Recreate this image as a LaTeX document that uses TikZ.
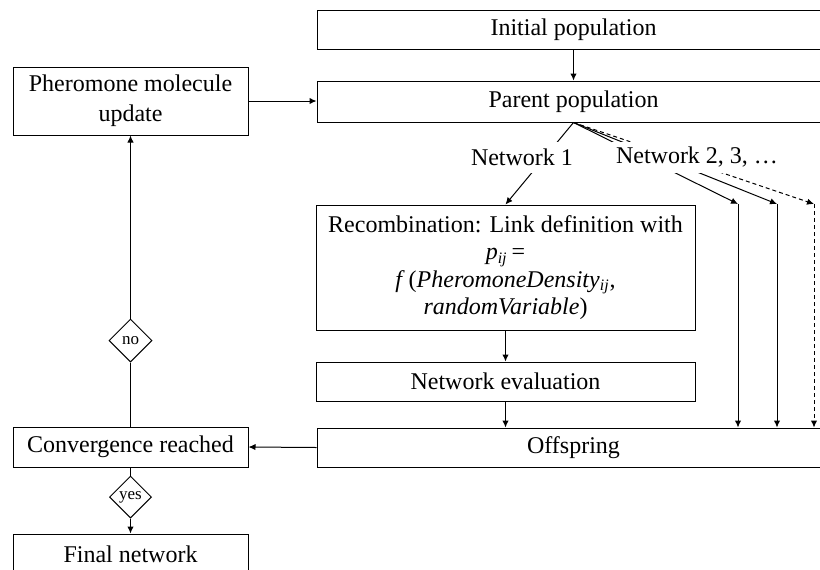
\documentclass[tikz,border=0pt]{standalone}
\usepackage{fontspec}
\setmainfont{Liberation Serif}
\usetikzlibrary{arrows.meta,shapes.geometric}

\begin{document}
\begin{tikzpicture}[x=0.5pt, y=-0.5pt, line width=0.5pt,
  font=\fontsize{12}{13.8}\selectfont,
  >={Latex[length=3.5pt, width=3.2pt]},
  box/.style={draw, align=center, inner sep=0pt},
  widebox/.style={box, minimum width=256.5pt, minimum height=19.5pt},
  sidebox/.style={box, minimum width=117.5pt, minimum height=20pt},
  midbox/.style={box, minimum width=189.5pt},
  decision/.style={draw, shape=diamond, inner sep=0pt, minimum width=21.5pt,
    minimum height=21.5pt, font=\fontsize{8.5}{10}\selectfont},
  netlabel/.style={fill=white, inner sep=2pt, minimum height=15.5pt},
  dashline/.style={dash pattern=on 2pt off 1.5pt}]

  \useasboundingbox (0,0) rectangle (820,569);

  % main column
  \node[widebox] (init) at (573.5,29.5) {Initial population};
  \node[widebox, minimum height=20.5pt] (parent) at (573.5,101.5) {Parent population};
  \node[midbox, minimum height=62.5pt] (recomb) at (505.5,267.5)
    {Recombination: Link definition with\\
     \textit{p}\textsubscript{\textit{ij}}\,=\\
     \textit{f}\,(\textit{PheromoneDensity}\textsubscript{\textit{ij}},\\
     \textit{randomVariable})};
  \node[midbox, minimum height=19.5pt] (evalnet) at (505.5,381.5) {Network evaluation};
  \node[widebox] (offspring) at (573.5,447.5) {Offspring};

  % left column
  \node[sidebox, minimum height=34pt, font=\fontsize{12}{15}\selectfont] (pher) at (130.5,101)
    {Pheromone molecule\\update};
  \node[sidebox] (conv) at (130.5,447) {Convergence reached};
  \node[sidebox] (final) at (130.5,554) {Final network};
  \node[decision] (no) at (130.5,340.5) {no};
  \node[decision, minimum width=21pt, minimum height=21pt] (yes) at (130.5,497) {yes};

  \coordinate (n2a) at (738,204);
  \coordinate (n2b) at (777,204);
  \coordinate (n2c) at (814,204);

  \path[draw, ->] (init) to (parent);
  \path[draw, ->] (pher.east) to (pher.east -| parent.west);
  \path[draw, ->] (parent.south) to (recomb.north);
  \path[draw, ->] (parent.south) to (n2a);
  \path[draw, ->] (parent.south) to (n2b);
  \path[draw, dashline, ->] (parent.south) to (n2c);
  \path[draw, ->] (n2a) to (n2a |- offspring.north);
  \path[draw, ->] (n2b) to (n2b |- offspring.north);
  \path[draw, dashline, ->] (n2c) to (n2c |- offspring.north);
  \path[draw, ->] (recomb) to (evalnet);
  \path[draw, ->] (evalnet.south) to (evalnet.south |- offspring.north);
  \path[draw, ->] (offspring.west) to (conv.east);
  \path[draw] (conv) to (no);
  \path[draw, ->] (no) to (pher);
  \path[draw] (conv) to (yes);
  \path[draw, ->] (yes) to (final);

  \node[netlabel] (net1) at (522,157) {Network 1};
  \node[netlabel] (net2) at (697,157) {Network 2, 3, …};

\end{tikzpicture}
\end{document}
